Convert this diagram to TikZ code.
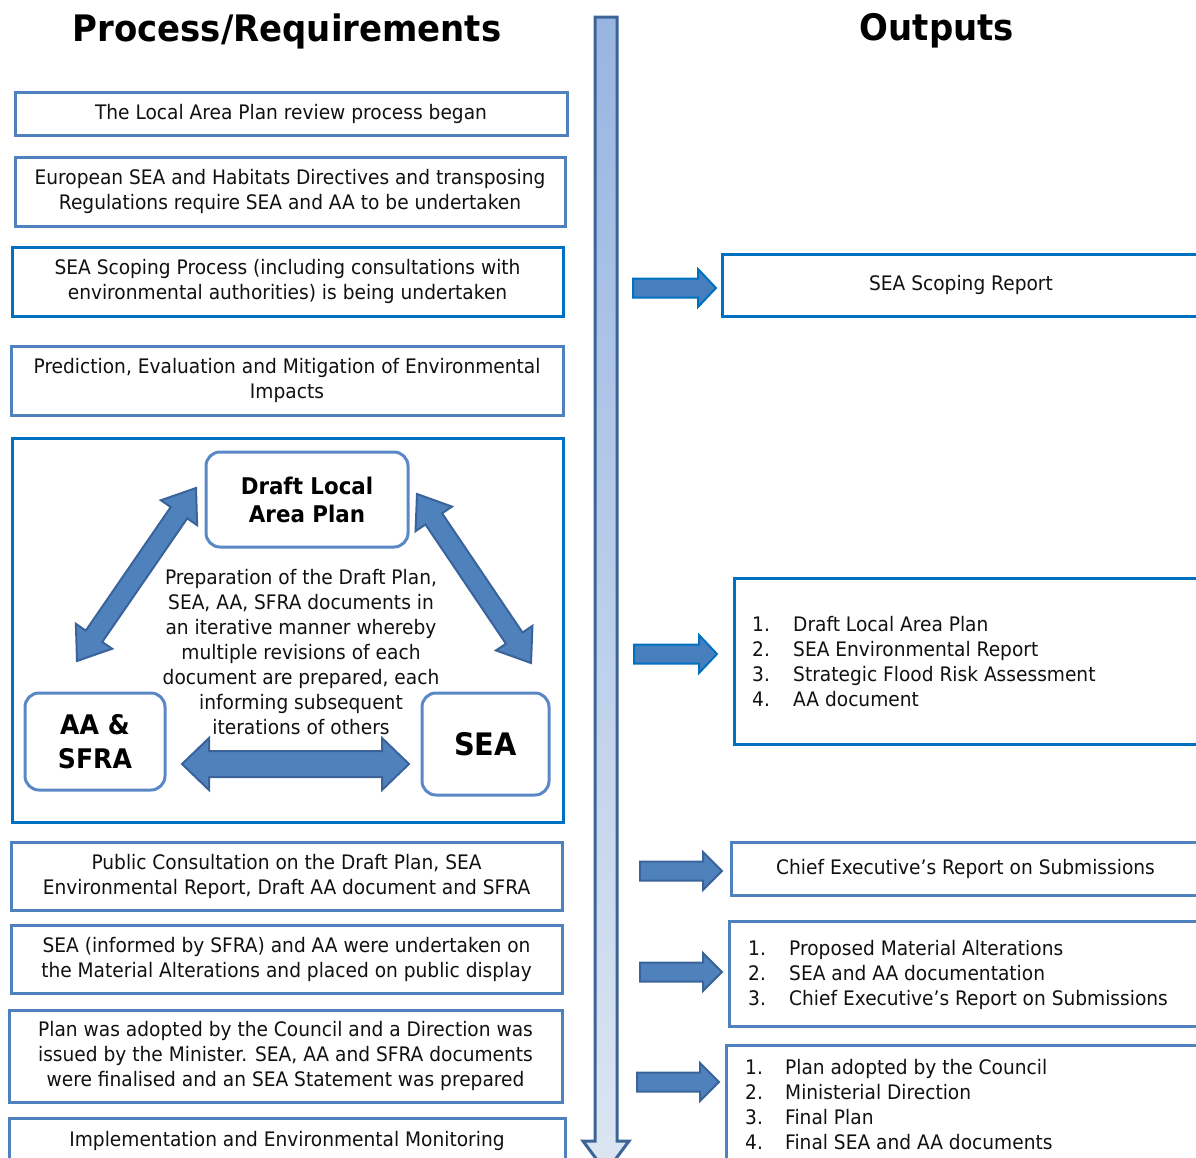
\documentclass[tikz,border=0pt]{standalone}
\usepackage{fontspec}
\setmainfont{DejaVu Sans}[FakeStretch=0.93]
\usetikzlibrary{calc}
\definecolor{boxblue}{HTML}{4F81BD}
\definecolor{brightblue}{HTML}{0070C0}
\definecolor{roundblue}{HTML}{5A88C6}
\definecolor{arrfill}{HTML}{4F81BD}
\definecolor{arrline}{HTML}{3A6499}
\definecolor{shaftline}{HTML}{3D6497}
\definecolor{shafttop}{HTML}{98B5E1}
\definecolor{shaftbot}{HTML}{DCE6F2}
\definecolor{txt}{HTML}{111111}
\tikzset{
  boxfont/.style={font=\fontsize{20}{25}\selectfont, text=txt},
  pbox/.style={draw=boxblue, line width=3pt, inner sep=0pt, align=center, boxfont},
  obox/.style={draw=#1, line width=3pt, inner sep=0pt, align=center, boxfont},
  rbox/.style={draw=roundblue, line width=3pt, rounded corners=14pt, inner sep=0pt, align=center, text=black},
  blockarrow/.style={fill=arrfill, draw=arrline, line width=2pt, line join=miter},
  titlefont/.style={font=\fontsize{36.5}{40}\selectfont\bfseries}
}
% double block arrow between two named coordinates: a, b, half shaft, half head, head length
\newcommand\blockdbl[5]{%
  \coordinate (qA) at ($(#1)!#5!(#2)$);
  \coordinate (qB) at ($(#2)!#5!(#1)$);
  \filldraw[blockarrow] (#1) -- ($(qA)!#4!90:(#2)$) -- ($(qA)!#3!90:(#2)$)
    -- ($(qB)!#3!90:(#2)$) -- ($(qB)!#4!90:(#2)$) -- (#2)
    -- ($(qB)!#4!-90:(#2)$) -- ($(qB)!#3!-90:(#2)$)
    -- ($(qA)!#3!-90:(#2)$) -- ($(qA)!#4!-90:(#2)$) -- cycle;
}
% single block arrow from a to b
\newcommand\blocksgl[6]{%
  \coordinate (qB) at ($(#2)!#5!(#1)$);
  \filldraw[blockarrow,#6] ($(#1)!#3!90:(#2)$)
    -- ($(qB)!#3!90:(#2)$) -- ($(qB)!#4!90:(#2)$) -- (#2)
    -- ($(qB)!#4!-90:(#2)$) -- ($(qB)!#3!-90:(#2)$)
    -- ($(#1)!#3!-90:(#2)$) -- cycle;
}
\begin{document}
\begin{tikzpicture}[x=1pt,y=-1pt]
\useasboundingbox (0,0) rectangle (1196,1157);
\fill[white] (0,0) rectangle (1196,1157);

% titles
\node[titlefont] (t1) at (287,31) {Process/Requirements};
\node[titlefont] (t2) at (937,31) {Outputs};

% central timeline arrow
\shade[top color=shafttop, bottom color=shaftbot, draw=shaftline, line width=3pt]
  (595,17) -- (617,17) -- (617,1141) -- (629,1141) -- (606,1172) -- (583,1141) -- (595,1141) -- cycle;

% left column
\node[pbox, minimum width=552pt, minimum height=43pt] (b1) at (291,113.5) {The Local Area Plan review process began};
\node[pbox, minimum width=550pt, minimum height=69pt] (b2) at (290,191.5) {European SEA and Habitats Directives and transposing\\Regulations require SEA and AA to be undertaken};
\node[obox=brightblue, minimum width=551pt, minimum height=69pt] (b3) at (287.5,281.5) {SEA Scoping Process (including consultations with\\environmental authorities) is being undertaken};
\node[pbox, minimum width=552pt, minimum height=69pt] (b4) at (287,380.5) {Prediction, Evaluation and Mitigation of Environmental\\Impacts};
\node[obox=brightblue, minimum width=551pt, minimum height=384pt] (b5) at (287.5,630) {};
\node[pbox, minimum width=551pt, minimum height=68pt] (b6) at (286.5,876) {Public Consultation on the Draft Plan, SEA\\Environmental Report, Draft AA document and SFRA};
\node[pbox, minimum width=551pt, minimum height=68pt] (b7) at (286.5,959) {SEA (informed by SFRA) and AA were undertaken on\\the Material Alterations and placed on public display};
\node[pbox, minimum width=553pt, minimum height=92pt] (b8) at (285.5,1056) {Plan was adopted by the Council and a Direction was\\issued by the Minister. SEA, AA and SFRA documents\\were finalised and an SEA Statement was prepared};
\node[pbox, minimum width=556pt, minimum height=46pt] (b9) at (287,1141) {Implementation and Environmental Monitoring};

% iterative cycle
\node[rbox, minimum width=202pt, minimum height=95pt, font=\fontsize{23}{28}\selectfont\bfseries] (dlap) at (307,499.5) {Draft Local\\Area Plan};
\node[rbox, minimum width=140pt, minimum height=97pt, font=\fontsize{27}{34}\selectfont\bfseries] (aa) at (95,741.5) {AA \&\\SFRA};
\node[rbox, minimum width=127pt, minimum height=102pt, font=\fontsize{31}{36}\selectfont\bfseries] (sea) at (485.5,744) {SEA};
\node[boxfont, align=center, inner sep=0pt] (iter) at (301,652) {Preparation of the Draft Plan,\\SEA, AA, SFRA documents in\\an iterative manner whereby\\multiple revisions of each\\document are prepared, each\\informing subsequent\\iterations of others};

\coordinate (l1) at (196,488);
\coordinate (l2) at (77,661);
\coordinate (r1) at (417,494);
\coordinate (r2) at (531,663);
\coordinate (h1) at (182,764);
\coordinate (h2) at (409,764);
\blockdbl{l1}{l2}{10pt}{22pt}{30pt}
\blockdbl{r1}{r2}{10pt}{22pt}{30pt}
\blockdbl{h1}{h2}{13pt}{26pt}{27pt}

% right column
\node[obox=brightblue, minimum width=478pt, minimum height=62pt] (o1) at (961,285) {SEA Scoping Report};
\node[obox=brightblue, minimum width=466pt, minimum height=166pt] (o2) at (967,661) {};
\node[boxfont, anchor=base west, inner sep=0pt] (o2t) at (752,631) {\begin{tabular}[t]{@{}p{41pt}@{}l@{}}1.&Draft Local Area Plan\\2.&SEA Environmental Report\\3.&Strategic Flood Risk Assessment\\4.&AA document\end{tabular}};
\node[pbox, minimum width=469pt, minimum height=53pt] (o3) at (965.5,868.5) {Chief Executive’s Report on Submissions};
\node[pbox, minimum width=471pt, minimum height=105pt] (o4) at (964.5,973.5) {};
\node[boxfont, anchor=base west, inner sep=0pt] (o4t) at (748,955) {\begin{tabular}[t]{@{}p{41pt}@{}l@{}}1.&Proposed Material Alterations\\2.&SEA and AA documentation\\3.&Chief Executive’s Report on Submissions\end{tabular}};
\node[pbox, minimum width=474pt, minimum height=125pt] (o5) at (963,1107.5) {};
\node[boxfont, anchor=base west, inner sep=0pt] (o5t) at (745,1074) {\begin{tabular}[t]{@{}p{40pt}@{}l@{}}1.&Plan adopted by the Council\\2.&Ministerial Direction\\3.&Final Plan\\4.&Final SEA and AA documents\end{tabular}};

% output arrows
\coordinate (a1s) at (633,288); \coordinate (a1e) at (716,288);
\coordinate (a2s) at (634,654); \coordinate (a2e) at (717,654);
\coordinate (a3s) at (640,871); \coordinate (a3e) at (722,871);
\coordinate (a4s) at (640,972); \coordinate (a4e) at (722,972);
\coordinate (a5s) at (637,1082); \coordinate (a5e) at (719,1082);
\blocksgl{a1s}{a1e}{9.5pt}{19pt}{18pt}{draw=brightblue, fill=arrfill!90!brightblue}
\blocksgl{a2s}{a2e}{9.5pt}{19pt}{18pt}{draw=brightblue, fill=arrfill!90!brightblue}
\blocksgl{a3s}{a3e}{9.5pt}{19pt}{19pt}{}
\blocksgl{a4s}{a4e}{9.5pt}{19pt}{19pt}{}
\blocksgl{a5s}{a5e}{9.5pt}{19pt}{19pt}{}
\end{tikzpicture}
\end{document}
